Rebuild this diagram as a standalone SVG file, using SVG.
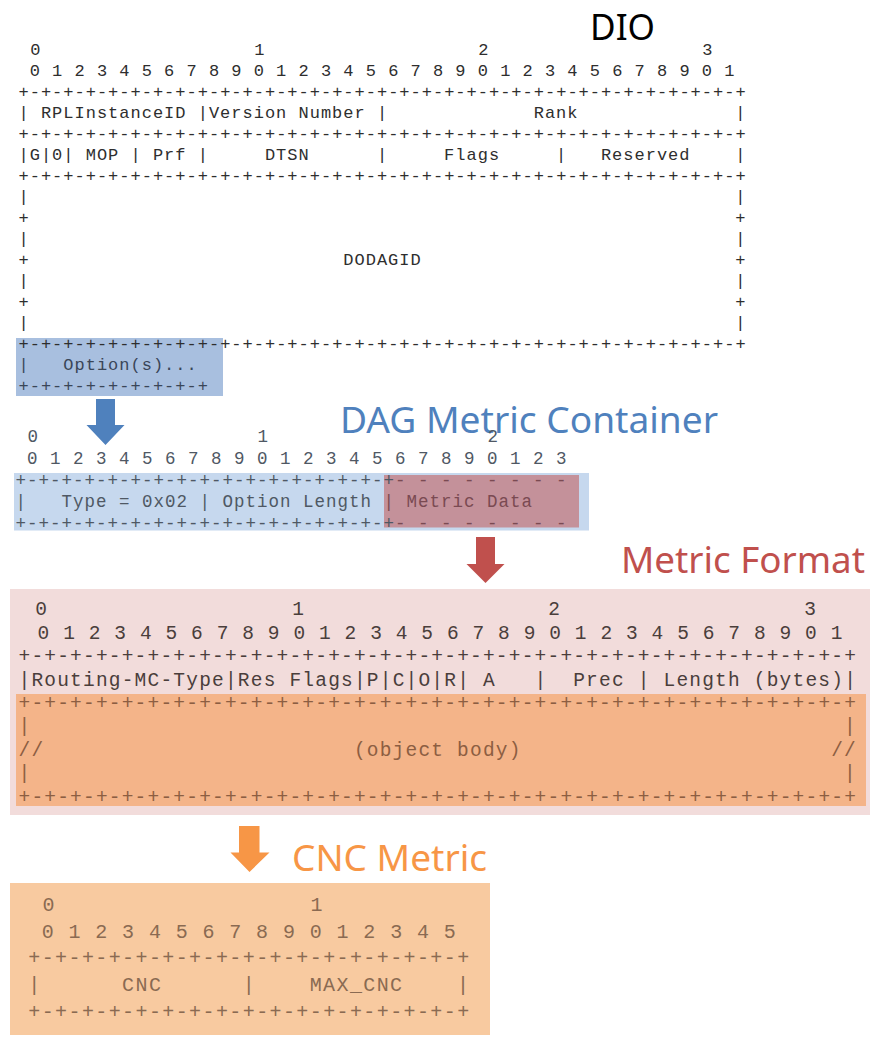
<svg xmlns="http://www.w3.org/2000/svg" width="870" height="1037" viewBox="0 0 870 1037">
<style>
  .title { font-family: "Noto Sans", "Open Sans", sans-serif; font-size: 36px; }
  .m { font-family: "Liberation Mono", "Courier New", monospace; white-space: pre; }
  .dio { font-size: 17px; letter-spacing: 1px; fill: #2e2e2e; }
  .opt { fill: #3a4658; }
  .dag { font-size: 17.5px; letter-spacing: 1px; fill: #4f5864; }
  .dagr { fill: #7a4a52; }
  .mf { font-size: 19.5px; letter-spacing: 1.2px; fill: #4a3e3b; }
  .mfd { letter-spacing: 1.09px; }
  .mfb { fill: #8c5e42; }
  .cnc { font-size: 20px; letter-spacing: 1.4px; fill: #8a6a52; }
  .mid { text-anchor: middle; letter-spacing: 0; }
</style>
<rect width="870" height="1037" fill="#ffffff"/>

<g id="dio">
  <rect x="16" y="338" width="207" height="58" fill="#a8bfdf"/>
  <text class="title" x="590" y="40" textLength="65" lengthAdjust="spacingAndGlyphs" fill="#000000">DIO</text>
  <text class="m dio mid" x="35.3" y="54.6">0</text>
  <text class="m dio mid" x="259.3" y="54.6">1</text>
  <text class="m dio mid" x="483.3" y="54.6">2</text>
  <text class="m dio mid" x="707.3" y="54.6">3</text>
  <text class="m dio" x="29.7" y="75.7">0 1 2 3 4 5 6 7 8 9 0 1 2 3 4 5 6 7 8 9 0 1 2 3 4 5 6 7 8 9 0 1</text>
  <text class="m dio" x="18.5" y="96.7">+-+-+-+-+-+-+-+-+-+-+-+-+-+-+-+-+-+-+-+-+-+-+-+-+-+-+-+-+-+-+-+-+</text>
  <text class="m dio" x="18.5" y="117.8">|</text>
  <text class="m dio" x="40.9" y="117.8">RPLInstanceID</text>
  <text class="m dio" x="197.7" y="117.8">|Version Number</text>
  <text class="m dio" x="376.9" y="117.8">|</text>
  <text class="m dio" x="533.7" y="117.8">Rank</text>
  <text class="m dio" x="735.3" y="117.8">|</text>
  <text class="m dio" x="18.5" y="138.8">+-+-+-+-+-+-+-+-+-+-+-+-+-+-+-+-+-+-+-+-+-+-+-+-+-+-+-+-+-+-+-+-+</text>
  <text class="m dio" x="18.5" y="159.9">|G|0|</text>
  <text class="m dio" x="85.7" y="159.9">MOP</text>
  <text class="m dio" x="130.5" y="159.9">|</text>
  <text class="m dio" x="152.9" y="159.9">Prf</text>
  <text class="m dio" x="197.7" y="159.9">|</text>
  <text class="m dio" x="264.9" y="159.9">DTSN</text>
  <text class="m dio" x="376.9" y="159.9">|</text>
  <text class="m dio" x="444.1" y="159.9">Flags</text>
  <text class="m dio" x="556.1" y="159.9">|</text>
  <text class="m dio" x="600.9" y="159.9">Reserved</text>
  <text class="m dio" x="735.3" y="159.9">|</text>
  <text class="m dio" x="18.5" y="180.9">+-+-+-+-+-+-+-+-+-+-+-+-+-+-+-+-+-+-+-+-+-+-+-+-+-+-+-+-+-+-+-+-+</text>
  <text class="m dio" x="18.5" y="202">|</text>
  <text class="m dio" x="735.3" y="202">|</text>
  <text class="m dio" x="18.5" y="223">+</text>
  <text class="m dio" x="735.3" y="223">+</text>
  <text class="m dio" x="18.5" y="244">|</text>
  <text class="m dio" x="735.3" y="244">|</text>
  <text class="m dio" x="18.5" y="265.1">+</text>
  <text class="m dio" x="343.3" y="265.1">DODAGID</text>
  <text class="m dio" x="735.3" y="265.1">+</text>
  <text class="m dio" x="18.5" y="286.2">|</text>
  <text class="m dio" x="735.3" y="286.2">|</text>
  <text class="m dio" x="18.5" y="307.2">+</text>
  <text class="m dio" x="735.3" y="307.2">+</text>
  <text class="m dio" x="18.5" y="328.3">|</text>
  <text class="m dio" x="735.3" y="328.3">|</text>
  <text class="m dio" x="18.5" y="349.3">+-+-+-+-+-+-+-+-+-+-+-+-+-+-+-+-+-+-+-+-+-+-+-+-+-+-+-+-+-+-+-+-+</text>
  <text class="m dio opt" x="18.5" y="370.4">|</text>
  <text class="m dio opt" x="63.3" y="370.4">Option(s)...</text>
  <text class="m dio opt" x="18.5" y="391.4">+-+-+-+-+-+-+-+-+</text>
</g>

<g id="dag-metric-container">
  <rect x="14" y="473" width="575" height="57.5" fill="#c6d8ee"/>
  <rect x="384" y="475" width="195" height="52.5" fill="#c4919a"/>
  <text class="title" x="340" y="432.5" textLength="378" lengthAdjust="spacingAndGlyphs" fill="#4f81bd">DAG Metric Container</text>
  <text class="m dag mid" x="32.75" y="442.3">0</text>
  <text class="m dag mid" x="262.75" y="442.3">1</text>
  <text class="m dag mid" x="492.75" y="442.3">2</text>
  <text class="m dag" x="27" y="464">0 1 2 3 4 5 6 7 8 9 0 1 2 3 4 5 6 7 8 9 0 1 2 3</text>
  <text class="m dag" x="15.5" y="485.7">+-+-+-+-+-+-+-+-+-+-+-+-+-+-+-+-+</text>
  <text class="m dag dagr" x="395" y="485.7">- - - - - - - -</text>
  <text class="m dag" x="15.5" y="507.4">|</text>
  <text class="m dag" x="61.5" y="507.4">Type = 0x02</text>
  <text class="m dag" x="199.5" y="507.4">|</text>
  <text class="m dag" x="222.5" y="507.4">Option Length</text>
  <text class="m dag dagr" x="383.5" y="507.4">|</text>
  <text class="m dag dagr" x="406.5" y="507.4">Metric Data</text>
  <text class="m dag" x="15.5" y="529.1">+-+-+-+-+-+-+-+-+-+-+-+-+-+-+-+-+</text>
  <text class="m dag dagr" x="395" y="529.1">- - - - - - - -</text>
</g>

<g id="metric-format">
  <rect x="10" y="589" width="860" height="226" fill="#f2dcdb"/>
  <rect x="16" y="694" width="850" height="112" fill="#f4b489"/>
  <text class="title" x="621" y="573" textLength="244" lengthAdjust="spacingAndGlyphs" fill="#c0504d">Metric Format</text>
  <text class="m mf mid" x="41" y="615.4">0</text>
  <text class="m mf mid" x="298" y="615.4">1</text>
  <text class="m mf mid" x="554" y="615.4">2</text>
  <text class="m mf mid" x="810" y="615.4">3</text>
  <text class="m mf mfd" x="37.6" y="638.8">0 1 2 3 4 5 6 7 8 9 0 1 2 3 4 5 6 7 8 9 0 1 2 3 4 5 6 7 8 9 0 1</text>
  <text class="m mf" x="18.5" y="662.2">+-+-+-+-+-+-+-+-+-+-+-+-+-+-+-+-+-+-+-+-+-+-+-+-+-+-+-+-+-+-+-+-+</text>
  <text class="m mf" x="18.5" y="685.6">|Routing-MC-Type|Res Flags|P|C|O|R|</text>
  <text class="m mf" x="482.9" y="685.6">A</text>
  <text class="m mf" x="534.5" y="685.6">|</text>
  <text class="m mf" x="573.2" y="685.6">Prec</text>
  <text class="m mf" x="637.7" y="685.6">|</text>
  <text class="m mf" x="663.5" y="685.6">Length (bytes)|</text>
  <text class="m mf mfb" x="18.5" y="709">+-+-+-+-+-+-+-+-+-+-+-+-+-+-+-+-+-+-+-+-+-+-+-+-+-+-+-+-+-+-+-+-+</text>
  <text class="m mf mfb" x="18.5" y="732.4">|</text>
  <text class="m mf mfb" x="844.1" y="732.4">|</text>
  <text class="m mf mfb" x="18.5" y="755.8">//</text>
  <text class="m mf mfb" x="353.9" y="755.8">(object body)</text>
  <text class="m mf mfb" x="831.2" y="755.8">//</text>
  <text class="m mf mfb" x="18.5" y="779.2">|</text>
  <text class="m mf mfb" x="844.1" y="779.2">|</text>
  <text class="m mf mfb" x="18.5" y="802.6">+-+-+-+-+-+-+-+-+-+-+-+-+-+-+-+-+-+-+-+-+-+-+-+-+-+-+-+-+-+-+-+-+</text>
</g>

<g id="cnc-metric">
  <rect x="10" y="883" width="480" height="152" fill="#f8caa0"/>
  <text class="title" x="292" y="870.5" textLength="195" lengthAdjust="spacingAndGlyphs" fill="#f79646">CNC Metric</text>
  <text class="m cnc mid" x="48.4" y="910.6">0</text>
  <text class="m cnc mid" x="316.4" y="910.6">1</text>
  <text class="m cnc" x="41.7" y="937.5">0 1 2 3 4 5 6 7 8 9 0 1 2 3 4 5</text>
  <text class="m cnc" x="28.3" y="964.4">+-+-+-+-+-+-+-+-+-+-+-+-+-+-+-+-+</text>
  <text class="m cnc" x="28.3" y="991.3">|</text>
  <text class="m cnc" x="122.1" y="991.3">CNC</text>
  <text class="m cnc" x="242.7" y="991.3">|</text>
  <text class="m cnc" x="309.7" y="991.3">MAX_CNC</text>
  <text class="m cnc" x="457.1" y="991.3">|</text>
  <text class="m cnc" x="28.3" y="1018.2">+-+-+-+-+-+-+-+-+-+-+-+-+-+-+-+-+</text>
</g>

<g id="connectors">
  <polygon points="96,399 115,399 115,425 124.5,425 105.5,445 86.5,425 96,425" fill="#4f81bd"/>
  <polygon points="476,537 495,537 495,564 504.5,564 485.5,583 466.5,564 476,564" fill="#c0504d"/>
  <polygon points="239,826 259.5,826 259.5,852.5 269.5,852.5 249.5,872 230.5,852.5 239,852.5" fill="#f79646"/>
</g>
</svg>
